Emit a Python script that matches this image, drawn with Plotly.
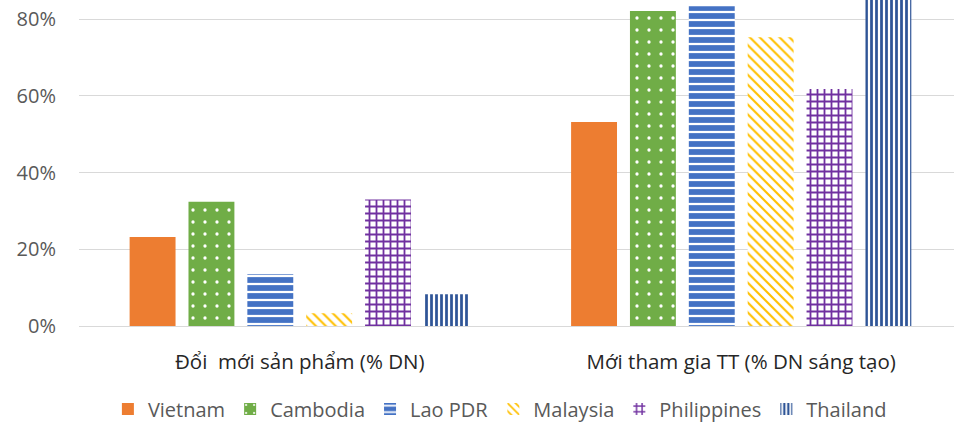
import plotly.graph_objects as go

# Categories and series values (share of firms)
categories = ["Đổi  mới sản phẩm (% DN)", "Mới tham gia TT (% DN sáng tạo)"]
countries = ["Vietnam", "Cambodia", "Lao PDR", "Malaysia", "Philippines", "Thailand"]
vietnam = [0.232, 0.532]
cambodia = [0.324, 0.821]
lao_pdr = [0.135, 0.834]
malaysia = [0.033, 0.753]
philippines = [0.330, 0.618]
thailand = [0.083, 0.89]
y_ticks = [0, 0.2, 0.4, 0.6, 0.8]
y_tick_labels = ["0%", "20%", "40%", "60%", "80%"]

series = [vietnam, cambodia, lao_pdr, malaysia, philippines, thailand]

# Fill style per country: base colour, pattern shape, pattern colours
styles = {
    "Vietnam": dict(color="#ED7D31", pattern=dict(shape="")),
    "Cambodia": dict(color="#70AD47",
                     pattern=dict(shape=".", fgcolor="#FFFFFF", bgcolor="#70AD47",
                                  size=12, solidity=0.06, fillmode="replace")),
    "Lao PDR": dict(color="#4472C4",
                    pattern=dict(shape="-", fgcolor="#FFFFFF", bgcolor="#4472C4",
                                 size=8, solidity=0.28, fillmode="replace")),
    "Malaysia": dict(color="#FFC000",
                     pattern=dict(shape="\\", fgcolor="#FFC000", bgcolor="#FFFFFF",
                                  size=7, solidity=0.3, fillmode="replace")),
    "Philippines": dict(color="#7030A0",
                        pattern=dict(shape="+", fgcolor="#7030A0", bgcolor="#FFFFFF",
                                     size=7, solidity=0.45, fillmode="replace")),
    "Thailand": dict(color="#2F5597",
                     pattern=dict(shape="|", fgcolor="#2F5597", bgcolor="#FFFFFF",
                                  size=5, solidity=0.55, fillmode="replace")),
}

fig = go.Figure()
for name, vals in zip(countries, series):
    st = styles[name]
    fig.add_trace(go.Bar(
        name=name,
        x=categories,
        y=vals,
        marker=dict(color=st["color"], pattern=st["pattern"], line=dict(width=0)),
        cliponaxis=True,
    ))

fig.update_layout(
    width=954,
    height=422,
    margin=dict(l=79, r=0, t=0, b=96),
    paper_bgcolor="#FFFFFF",
    plot_bgcolor="#FFFFFF",
    barmode="group",
    bargap=0.2,
    bargroupgap=0.22,
    font=dict(family="'Open Sans', sans-serif", color="#595959", size=20),
    showlegend=True,
    legend=dict(
        orientation="h",
        xref="container", yref="container",
        x=0.524, y=0.031, xanchor="center", yanchor="middle",
        font=dict(size=20, color="#595959"),
        itemwidth=30,
        traceorder="normal",
    ),
)

fig.update_xaxes(
    type="category",
    range=[-0.5, 1.482],
    showgrid=False,
    showline=False,
    ticks="",
    ticklabelstandoff=21,
    tickfont=dict(family="'Open Sans', sans-serif", size=20.5, color="#262626"),
)

fig.update_yaxes(
    range=[0, 0.85],
    tickvals=y_ticks,
    ticktext=y_tick_labels,
    showgrid=True,
    gridcolor="#D9D9D9",
    gridwidth=1.3,
    zeroline=True,
    zerolinecolor="#D9D9D9",
    zerolinewidth=1.3,
    showline=False,
    ticks="",
    ticklabelstandoff=22,
    tickfont=dict(family="'Open Sans', sans-serif", size=20, color="#595959"),
)

fig.write_html("out.html")
